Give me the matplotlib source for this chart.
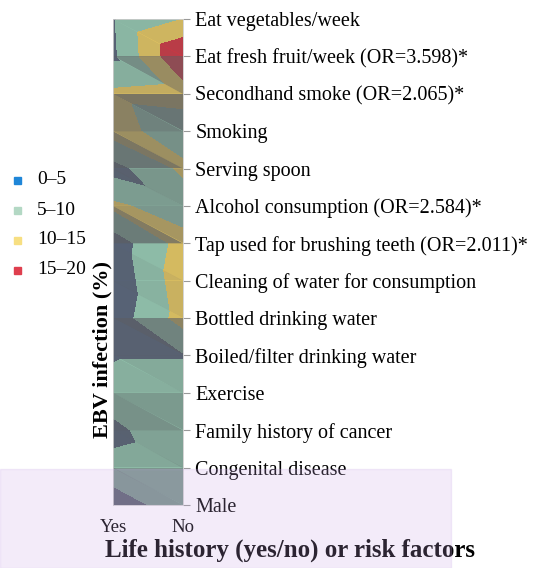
import numpy as np
import matplotlib
matplotlib.use('Agg')
import matplotlib.pyplot as plt
import matplotlib.tri as mtri
from matplotlib.collections import PolyCollection
from matplotlib.patches import Rectangle

plt.rcParams['font.family'] = ['Liberation Serif', 'DejaVu Serif']

factors = ['Eat vegetables/week', 'Eat fresh fruit/week (OR=3.598)*',
           'Secondhand smoke (OR=2.065)*', 'Smoking', 'Serving spoon',
           'Alcohol consumption (OR=2.584)*',
           'Tap used for brushing teeth (OR=2.011)*',
           'Cleaning of water for consumption', 'Bottled drinking water',
           'Boiled/filter drinking water', 'Exercise',
           'Family history of cancer', 'Congenital disease', 'Male']
# EBV infection (%) for answer yes / no
ebv_yes = [4.5, 4, 11, 12, 3, 11, 2, 1, 2, 4.5, 7, 4, 6, 4]
ebv_no = [10, 20, 12, 7, 11, 7, 12, 13, 12, 4.5, 9, 8, 7, 6]
band_labels = ['0–5', '5–10', '10–15', '15–20']
levels = [0, 5, 10, 15, 20]

band_colors = ['#56647a', '#9ad3b8', '#f3d160', '#d8323f']
legend_colors = ['#1f86d8', '#b3d8c4', '#f7df82', '#df3f4e']

n = len(factors)
xs = np.tile([0.0, 1.0], n)
ys = np.repeat(np.arange(n, dtype=float), 2)
zs = np.column_stack([ebv_yes, ebv_no]).ravel()

tris = []
for i in range(n - 1):
    a, b, c, d = 2 * i, 2 * i + 1, 2 * i + 2, 2 * i + 3
    tris.append([a, b, d])
    tris.append([a, d, c])
tris = np.array(tris)
tri = mtri.Triangulation(xs, ys, tris)

# flat facet shading, like a lit surface seen from above
pts = np.column_stack([xs * 70, ys * 37, zs * 6.0])
p0, p1, p2 = pts[tris[:, 0]], pts[tris[:, 1]], pts[tris[:, 2]]
normals = np.cross(p1 - p0, p2 - p0)
normals[normals[:, 2] < 0] *= -1
normals /= np.linalg.norm(normals, axis=1)[:, None]
light = np.array([-0.7, -0.5, 0.5])
light /= np.linalg.norm(light)
bright = normals @ light
dark = 1 - (bright - bright.min()) / (np.ptp(bright) + 1e-9)
shade_rgba = np.tile([0.36, 0.37, 0.39, 0.0], (len(tris), 1))
shade_rgba[:, 3] = 0.2 + 0.6 * dark

fig = plt.figure(figsize=(5.5, 5.68), dpi=100)
ax = fig.add_axes([0.2055, 0.111, 0.127, 0.8555])
ax.tricontourf(tri, zs, levels=levels, colors=band_colors)
facets = PolyCollection([np.column_stack([xs[t], ys[t]]) for t in tris],
                        facecolors=shade_rgba, edgecolors='none')
ax.add_collection(facets)
ax.set_xlim(0, 1)
ax.set_ylim(n - 1, 0)

ax.yaxis.tick_right()
ax.set_yticks(range(n))
ax.set_yticklabels(factors, fontsize=14.5)
ax.set_xticks([0, 1])
ax.set_xticklabels(['Yes', 'No'], fontsize=13.5)
ax.tick_params(axis='y', length=5, color='#999999', pad=4)
ax.tick_params(axis='x', length=0, pad=10)
for s in ax.spines.values():
    s.set_color('#cccccc')
    s.set_linewidth(0.6)

fig.text(0.187, 0.384, 'EBV infection (%)', rotation=90, ha='center', va='center',
         fontsize=16, fontweight='bold')
fig.text(0.527, 0.032, 'Life history (yes/no) or risk factors', ha='center',
         va='center', fontsize=18, fontweight='bold')

for k, (lab, col) in enumerate(zip(band_labels, legend_colors)):
    yy = 1 - (180 + 30 * k) / 568
    fig.patches.append(Rectangle((0.025, yy - 0.007), 0.013, 0.013, color=col,
                                 transform=fig.transFigure))
    fig.text(0.067, yy, lab, va='center', fontsize=14)

# pale lavender band along the bottom
fig.patches.append(Rectangle((0, 0), 0.82, 0.175, color='#c9a8e6', alpha=0.22,
                             transform=fig.transFigure, zorder=10))

fig.savefig('out.png', dpi=100)
